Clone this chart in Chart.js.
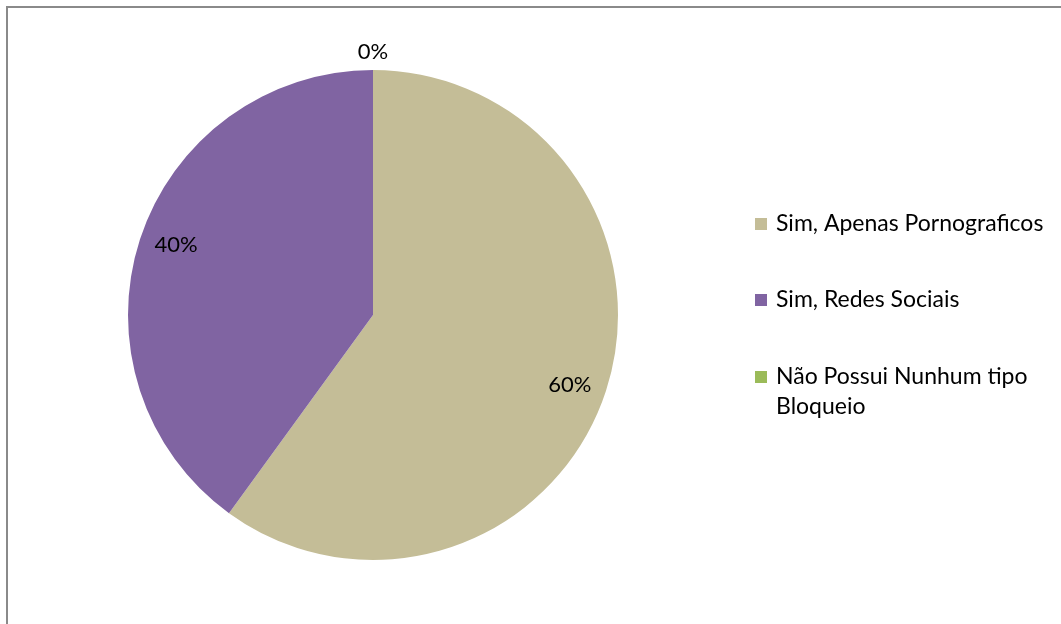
<!DOCTYPE html>
<html>
<head>
<meta charset="utf-8">
<script src="https://cdn.jsdelivr.net/npm/chart.js@4/dist/chart.umd.min.js"></script>
<style>
  body { margin: 0; background: #fff; overflow: hidden; }
  #moldura { position: absolute; left: 6px; top: 6px; width: 1100px; height: 700px; border: 2px solid #8a8a8a; }
  #grafico { position: absolute; left: 0; top: 0; }
</style>
</head>
<body>
<div id="moldura"></div>
<canvas id="grafico" width="1061" height="624"></canvas>
<script>
// Dados do gráfico
const categorias = ['Sim, Apenas Pornograficos', 'Sim, Redes Sociais', 'Não Possui Nunhum tipo Bloqueio'];
const valores = [60, 40, 0];
const cores = ['#C4BD97', '#8064A2', '#9BBB59'];

const fonte = 'Lato, "Open Sans", sans-serif';

// Rótulos de porcentagem sobre as fatias
const rotulosPlugin = {
  id: 'rotulos',
  afterDatasetsDraw(chart) {
    const ctx = chart.ctx;
    const meta = chart.getDatasetMeta(0);
    const total = valores.reduce((a, b) => a + b, 0);
    ctx.save();
    ctx.font = '22px ' + fonte;
    ctx.fillStyle = '#000';
    ctx.textAlign = 'center';
    ctx.textBaseline = 'middle';
    meta.data.forEach((arco, i) => {
      const p = arco.getProps(['x', 'y', 'startAngle', 'endAngle', 'outerRadius'], true);
      const meio = (p.startAngle + p.endAngle) / 2;
      const txt = Math.round(valores[i] / total * 100) + '%';
      if (valores[i] > 0) {
        const r = p.outerRadius * 0.845;
        ctx.fillText(txt, p.x + Math.cos(meio) * r, p.y + Math.sin(meio) * r * 1.1);
      } else {
        const r = p.outerRadius + 18;
        ctx.fillText(txt, p.x + Math.cos(meio) * r, p.y + Math.sin(meio) * r);
      }
    });
    ctx.restore();
  }
};

// Legenda desenhada à direita
const legendaPlugin = {
  id: 'legenda',
  afterDraw(chart) {
    const ctx = chart.ctx;
    const linhas = [['Sim, Apenas Pornograficos'], ['Sim, Redes Sociais'], ['Não Possui Nunhum tipo', 'Bloqueio']];
    const ys = [224, 300, 377];
    ctx.save();
    ctx.font = '23px ' + fonte;
    ctx.textBaseline = 'middle';
    categorias.forEach((c, i) => {
      ctx.fillStyle = cores[i];
      ctx.fillRect(755, ys[i] - 6, 12, 12);
      ctx.fillStyle = '#000';
      linhas[i].forEach((t, j) => ctx.fillText(t, 776, ys[i] + j * 30));
    });
    ctx.restore();
  }
};

new Chart(document.getElementById('grafico').getContext('2d'), {
  type: 'pie',
  data: {
    labels: categorias,
    datasets: [{
      data: valores,
      backgroundColor: cores,
      borderWidth: 0
    }]
  },
  options: {
    responsive: false,
    animation: false,
    layout: {
      padding: { left: 128, top: 70, right: 443, bottom: 64 }
    },
    plugins: {
      legend: { display: false },
      tooltip: { enabled: false }
    }
  },
  plugins: [rotulosPlugin, legendaPlugin]
});
</script>
</body>
</html>
